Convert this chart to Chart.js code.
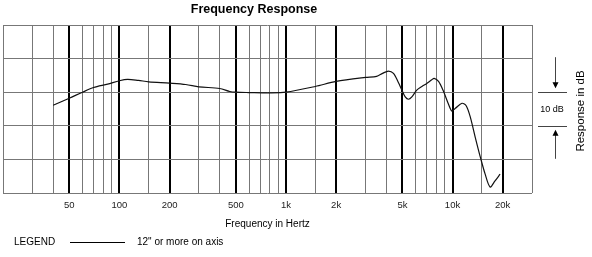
<!DOCTYPE html>
<html>
<head>
<meta charset="utf-8">
<script src="https://cdn.jsdelivr.net/npm/chart.js@4"></script>
<style>
  html, body { margin: 0; padding: 0; background: #fff; }
</style>
</head>
<body>
<canvas id="c" width="592" height="257"></canvas>
<script>
// frequency response (Hz / dB)
const freqs = [40, 50, 60, 70, 85, 100, 112, 130, 150, 200, 250, 300, 400, 460, 500, 600, 800, 1000,
  1500, 2000, 3000, 3500, 3800, 4120, 4420, 4730, 4970, 5200, 5440, 5700, 6100, 6550, 7000, 7500,
  7760, 8240, 8800, 9460, 9900, 10400, 11400, 12100, 12800, 13700, 14700, 15700, 16800, 18000, 19300];
const response = [-3.9, -1.8, 0, 1.4, 2.4, 3.4, 3.8, 3.5, 3.1, 2.7, 2.3, 1.6, 1.1, 0.2, 0, -0.1, -0.2, 0,
  1.7, 3.2, 4.4, 4.7, 5.6, 6.3, 5.6, 2.9, 0.6, -1.4, -2.1, -1.4, 0.6, 1.7, 2.6, 3.7,
  4.1, 3.2, 0.4, -3.6, -5.6, -4.8, -3.3, -4.1, -7.5, -13.5, -19.4, -24.4, -28.2, -26.4, -24.4];

const gridFreqs = [20, 30, 40, 50, 60, 70, 80, 90, 100, 150, 200, 300, 400, 500, 600, 700, 800, 900,
  1000, 1500, 2000, 3000, 4000, 5000, 6000, 7000, 8000, 9000, 10000, 15000, 20000, 30000];
const majorFreqs = [50, 100, 200, 500, 1000, 2000, 5000, 10000, 20000];
const tickLabels = ['50', '100', '200', '500', '1k', '2k', '5k', '10k', '20k'];

const FONT = '"Liberation Sans", Arial, Helvetica, sans-serif';

const extras = {
  id: 'extras',
  afterDraw(chart) {
    const ctx = chart.ctx;
    const y = chart.scales.y;
    const y0 = y.getPixelForValue(0), y10 = y.getPixelForValue(-10);
    ctx.save();
    ctx.fillStyle = '#000';
    ctx.strokeStyle = '#000';
    ctx.textBaseline = 'middle';

    // title
    ctx.font = 'bold 12.5px ' + FONT;
    ctx.textAlign = 'center';
    ctx.fillText('Frequency Response', 254, 10);

    // legend
    ctx.font = '10px ' + FONT;
    ctx.textAlign = 'left';
    ctx.fillText('LEGEND', 14, 242);
    ctx.fillText('12" or more on axis', 137, 242);
    ctx.lineWidth = 1;
    ctx.beginPath();
    ctx.moveTo(70, 242.5); ctx.lineTo(125, 242.5);
    ctx.stroke();

    // 10 dB marker
    const ax = 555.5;
    ctx.strokeStyle = '#444';
    ctx.beginPath();
    ctx.moveTo(538, Math.round(y0) + 0.5); ctx.lineTo(567, Math.round(y0) + 0.5);
    ctx.moveTo(538, Math.round(y10) + 0.5); ctx.lineTo(567, Math.round(y10) + 0.5);
    ctx.moveTo(ax, y0 - 35); ctx.lineTo(ax, y0 - 8);
    ctx.moveTo(ax, y10 + 8); ctx.lineTo(ax, y10 + 33);
    ctx.stroke();
    ctx.fillStyle = '#000';
    ctx.beginPath();
    ctx.moveTo(ax - 3, y0 - 10); ctx.lineTo(ax + 3, y0 - 10); ctx.lineTo(ax, y0 - 4); ctx.closePath();
    ctx.moveTo(ax - 3, y10 + 10); ctx.lineTo(ax + 3, y10 + 10); ctx.lineTo(ax, y10 + 4); ctx.closePath();
    ctx.fill();
    ctx.font = '9px ' + FONT;
    ctx.textAlign = 'center';
    ctx.fillText('10 dB', 552, (y0 + y10) / 2 + 1);

    // side axis label
    ctx.font = '11.5px ' + FONT;
    ctx.translate(581, 111);
    ctx.rotate(-Math.PI / 2);
    ctx.fillText('Response in dB', 0, 0);
    ctx.restore();
  }
};

new Chart(document.getElementById('c'), {
  type: 'line',
  data: {
    datasets: [{
      data: freqs.map((f, i) => ({ x: f, y: response[i] })),
      borderColor: '#111',
      borderWidth: 1.2,
      pointRadius: 0,
      tension: 0.3,
      fill: false
    }]
  },
  options: {
    responsive: false,
    animation: false,
    devicePixelRatio: 1,
    layout: { padding: { left: 3, right: 60, top: 25, bottom: 0 } },
    plugins: { legend: { display: false }, tooltip: { enabled: false }, title: { display: false } },
    scales: {
      x: {
        type: 'logarithmic',
        min: 20,
        max: 30000,
        afterBuildTicks: s => { s.ticks = gridFreqs.map(v => ({ value: v })); },
        afterFit: s => { s.height = 64; s.paddingLeft = 0; s.paddingRight = 0; },
        grid: {
          drawTicks: false,
          color: c => majorFreqs.includes(c.tick && c.tick.value) ? '#000' : '#777',
          lineWidth: c => majorFreqs.includes(c.tick && c.tick.value) ? 2 : 1
        },
        border: { display: false },
        ticks: {
          autoSkip: false,
          maxRotation: 0,
          padding: 7,
          color: '#222',
          font: { family: FONT, size: 9.5 },
          callback: v => {
            const i = majorFreqs.indexOf(v);
            return i >= 0 ? tickLabels[i] : '';
          }
        },
        title: {
          display: true,
          text: 'Frequency in Hertz',
          color: '#000',
          font: { family: FONT, size: 10 },
          padding: { top: 0, bottom: 27 }
        }
      },
      y: {
        min: -30,
        max: 20,
        afterFit: s => { s.width = 0; },
        ticks: { display: false, stepSize: 10 },
        grid: { drawTicks: false, color: '#777', lineWidth: 1 },
        border: { display: false }
      }
    }
  },
  plugins: [extras]
});
</script>
</body>
</html>
